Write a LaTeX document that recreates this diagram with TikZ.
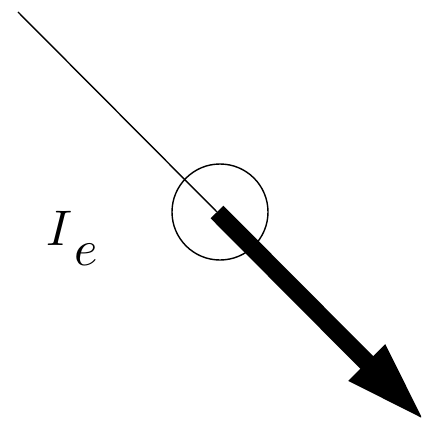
\documentclass[tikz,border=0pt]{standalone}
\usepackage{amsmath,amssymb}
\usepackage{graphicx}
\usepackage{xcolor}
\usetikzlibrary{arrows.meta, positioning}
\tikzset{wire/.style={line width=1.4pt, draw=black},
  loopc/.style={circle, draw=black, line width=1.4pt, minimum size=96pt, inner sep=0pt},
  current/.style={line width=18pt, draw=black, -{Triangle[length=84pt,width=46pt]}}}

\begin{document}
\begin{tikzpicture}[x=1pt, y=-1pt]
  \useasboundingbox (0,0) rectangle (421,425);
  \clip (0,0) rectangle (421,425);
  \coordinate (top) at (18,12);
  \coordinate (start) at (217,212);
  \coordinate (tip) at (426,422);
  \node (loop) [loopc] at (220,212) {};
  \node (cur) at (72,238) {\scalebox{5}{$I\mkern1mu\raisebox{-4pt}{$e$}$}};
  \draw[wire] (top) -- (start);
  \draw[current] (start) -- (tip);
\end{tikzpicture}
\end{document}
